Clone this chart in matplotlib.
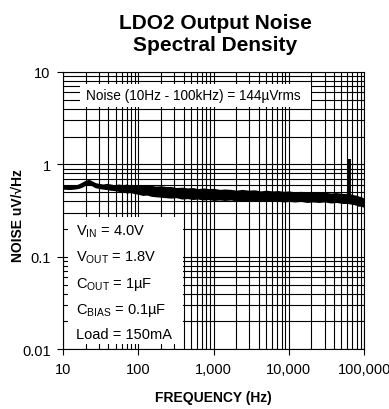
import matplotlib
matplotlib.use("Agg")
import matplotlib.pyplot as plt
from matplotlib.ticker import FixedLocator, LogLocator, NullFormatter
from matplotlib.patches import Rectangle

plt.rcParams['font.family'] = ['Liberation Sans', 'DejaVu Sans']
plt.rcParams['mathtext.fontset'] = 'custom'
plt.rcParams['mathtext.rm'] = 'Liberation Sans'
plt.rcParams['mathtext.it'] = 'Liberation Sans:italic'
plt.rcParams['mathtext.bf'] = 'Liberation Sans:bold'

# noise band (upper / lower edges of the measured trace), uV/rtHz
band_freq = [10, 12, 14, 16, 18, 20, 22, 24, 27, 30, 34, 38, 43, 48, 55, 62, 70, 80, 90, 100,
             115, 130, 150, 170, 200, 230, 270, 320, 380, 450, 530, 620, 730, 860, 1000, 1200,
             1400, 1700, 2000, 2400, 2900, 3500, 4200, 5000, 6000, 7200, 8600, 10000, 12000,
             14500, 17500, 21000, 25000, 30000, 36000, 43000, 52000, 60000, 66000, 72000, 78000,
             84000, 90000, 95000, 100000]
band_hi = [0.58, 0.585, 0.58, 0.6, 0.63, 0.66, 0.675, 0.65, 0.62, 0.61, 0.6, 0.61, 0.6, 0.59,
           0.6, 0.59, 0.6, 0.58, 0.59, 0.59, 0.58, 0.59, 0.58, 0.57, 0.575, 0.565, 0.565, 0.55,
           0.555, 0.545, 0.55, 0.535, 0.545, 0.535, 0.54, 0.525, 0.53, 0.525, 0.515, 0.525, 0.515,
           0.52, 0.505, 0.515, 0.505, 0.51, 0.5, 0.505, 0.495, 0.5, 0.49, 0.495, 0.485, 0.49,
           0.48, 0.485, 0.475, 0.475, 0.47, 0.46, 0.455, 0.445, 0.44, 0.43, 0.42]
band_lo = [0.55, 0.545, 0.55, 0.56, 0.58, 0.61, 0.62, 0.6, 0.57, 0.56, 0.55, 0.545, 0.535,
           0.53, 0.52, 0.515, 0.5, 0.505, 0.49, 0.485, 0.47, 0.475, 0.46, 0.455, 0.45, 0.445,
           0.44, 0.445, 0.43, 0.435, 0.425, 0.43, 0.42, 0.425, 0.415, 0.42, 0.415, 0.42, 0.41,
           0.415, 0.41, 0.415, 0.405, 0.41, 0.405, 0.41, 0.4, 0.405, 0.4, 0.405, 0.395, 0.4,
           0.395, 0.4, 0.39, 0.395, 0.385, 0.385, 0.38, 0.375, 0.37, 0.36, 0.36, 0.355, 0.35]
spike_freq = [63000, 63000]
spike_val = [0.46, 1.13]

x_ticks = [10, 100, 1000, 10000, 100000]
x_labels = ['10', '100', '1,000', '10,000', '100,000']
y_ticks = [0.01, 0.1, 1, 10]
y_labels = ['0.01', '0.1', '1', '10']

title = 'LDO2 Output Noise\nSpectral Density'
note = 'Noise (10Hz - 100kHz) = 144µVrms'
conditions = [r'V$_{\mathrm{IN}}$ = 4.0V', r'V$_{\mathrm{OUT}}$ = 1.8V', r'C$_{\mathrm{OUT}}$ = 1µF',
              r'C$_{\mathrm{BIAS}}$ = 0.1µF', 'Load = 150mA']

fig = plt.figure(figsize=(3.89, 4.10), dpi=100)
ax = fig.add_axes([0.162, 0.146, 0.774, 0.676])
ax.set_xscale('log')
ax.set_yscale('log')
ax.set_xlim(10, 100000)
ax.set_ylim(0.01, 10)
ax.set_axisbelow(True)

ax.fill_between(band_freq, band_lo, band_hi, color='black', lw=1.2, edgecolor='black', zorder=2)
ax.plot(spike_freq, spike_val, color='black', lw=2.8, solid_capstyle='butt', zorder=2)

ax.xaxis.set_major_locator(FixedLocator(x_ticks))
ax.set_xticklabels(x_labels)
ax.yaxis.set_major_locator(FixedLocator(y_ticks))
ax.set_yticklabels(y_labels)
for a in (ax.xaxis, ax.yaxis):
    a.set_minor_locator(LogLocator(base=10, subs=range(2, 10)))
    a.set_minor_formatter(NullFormatter())
ax.tick_params(which='major', direction='out', length=4, width=0.8, labelsize=10.5,
               colors='black', pad=5)
ax.tick_params(which='minor', length=0)
ax.grid(which='both', color='black', lw=0.8)
for s in ax.spines.values():
    s.set_linewidth(0.8)

# top note box
ax.add_patch(Rectangle((0.055, 0.875), 0.77, 0.082, transform=ax.transAxes,
                       facecolor='white', edgecolor='none', zorder=3))
ax.text(0.075, 0.916, note, transform=ax.transAxes, fontsize=9.8, va='center', ha='left', zorder=4)

# conditions box
ax.add_patch(Rectangle((0.017, 0.018), 0.383, 0.458, transform=ax.transAxes,
                       facecolor='white', edgecolor='none', zorder=3))
ys = [0.428, 0.333, 0.238, 0.144, 0.055]
for t, yy in zip(conditions, ys):
    ax.text(0.043, yy, t, transform=ax.transAxes, fontsize=10.5, va='center', ha='left', zorder=4)

fig.text(0.553, 0.916, title, ha='center', va='center', fontsize=15, fontweight='bold',
         linespacing=1.25)
ax.set_xlabel('FREQUENCY (Hz)', fontsize=10, fontweight='bold')
ax.xaxis.set_label_coords(0.5, -0.148)
ax.set_ylabel('NOISE uV/√Hz', fontsize=10, fontweight='bold')
ax.yaxis.set_label_coords(-0.128, 0.484)

fig.savefig('out.png', dpi=100)
